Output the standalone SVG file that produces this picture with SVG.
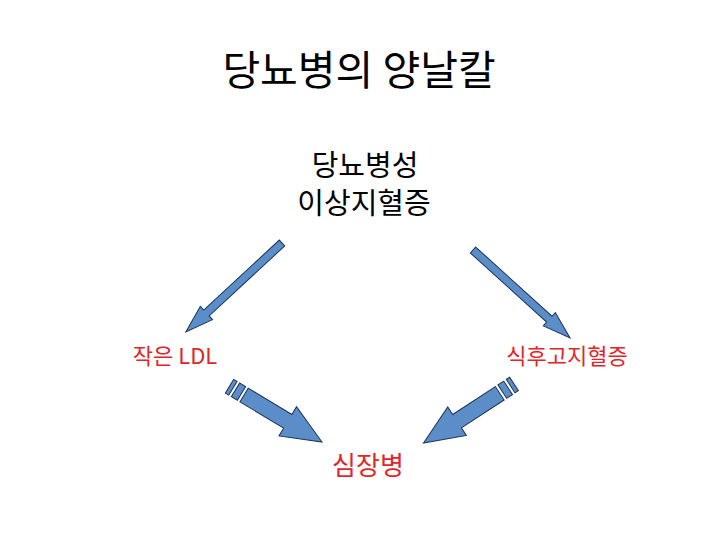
<svg xmlns="http://www.w3.org/2000/svg" xmlns:xlink="http://www.w3.org/1999/xlink" width="720" height="540" viewBox="0 0 720 540">
  <style>
    text { font-family: "Noto Sans CJK KR", "Noto Sans", sans-serif; text-anchor: middle; }
    .title { font-size: 41px; fill: #000; }
    .sub { font-size: 29px; fill: #000; }
    .red { fill: #e0262b; }
    .arrow { fill: #5b8dc9; stroke: #1d3350; stroke-width: 1; stroke-linejoin: miter; }
  </style>
  <defs>
    <path id="thin" d="M0,-4 L103,-4 L103,-9 L131,0 L103,9 L103,4 L0,4 Z"/>
    <g id="thick">
      <rect x="0" y="-8" width="4" height="16"/>
      <rect x="7" y="-8" width="7" height="16"/>
      <path d="M17,-8 L68,-8 L68,-17 L108,0 L68,17 L68,8 L17,8 Z"/>
    </g>
  </defs>
  <rect width="720" height="540" fill="#fff"/>

  <g id="title"><text class="title" x="359" y="85">당뇨병의 양날칼</text></g>

  <g id="node-top">
    <text class="sub" x="365" y="176">당뇨병성</text>
    <text class="sub" x="364" y="214">이상지혈증</text>
  </g>

  <g id="node-left"><text class="red" x="175" y="364" font-size="22">작은 LDL</text></g>
  <g id="node-right"><text class="red" x="567" y="364" font-size="22">식후고지혈증</text></g>
  <g id="node-bottom"><text class="red" x="368" y="475" font-size="26">심장병</text></g>

  <g id="connectors" class="arrow">
    <use xlink:href="#thin" transform="translate(282,243) rotate(137.2)"/>
    <use xlink:href="#thin" transform="translate(473,250) rotate(42.2)"/>
    <use xlink:href="#thick" transform="translate(229.5,386.2) rotate(31.1)"/>
    <use xlink:href="#thick" transform="translate(514,384) rotate(146.9)"/>
  </g>
</svg>
